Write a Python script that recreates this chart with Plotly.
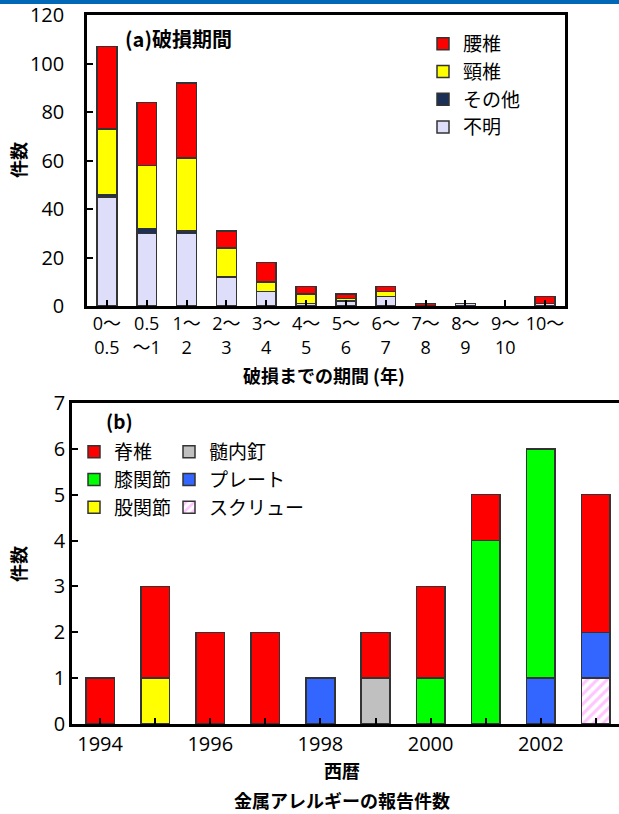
import plotly.graph_objects as go

# ---------- (a) data ----------
periods = ["0〜<br>0.5", "0.5<br>〜1", "1〜<br>2", "2〜<br>3", "3〜<br>4", "4〜<br>5",
           "5〜<br>6", "6〜<br>7", "7〜<br>8", "8〜<br>9", "9〜<br>10", "10〜"]
unknown = [45, 30, 30, 12, 6, 1, 2, 4, 0, 1, 0, 1]
other = [1, 2, 1, 0, 0, 0, 0, 0, 0, 0, 0, 0]
cervical = [27, 26, 30, 12, 4, 4, 1, 2, 0, 0, 0, 0]
lumbar = [34, 26, 31, 7, 8, 3, 2, 2, 1, 0, 0, 3]
yticks_a = [0, 20, 40, 60, 80, 100, 120]

# ---------- (b) data ----------
years = [1994, 1995, 1996, 1997, 1998, 1999, 2000, 2001, 2002, 2003]
year_labels = ["1994", "", "1996", "", "1998", "", "2000", "", "2002", ""]
screw = [0, 0, 0, 0, 0, 0, 0, 0, 0, 1]
plate = [0, 0, 0, 0, 1, 0, 0, 0, 1, 1]
nail = [0, 0, 0, 0, 0, 1, 0, 0, 0, 0]
hip = [0, 1, 0, 0, 0, 0, 0, 0, 0, 0]
knee = [0, 0, 0, 0, 0, 0, 1, 4, 5, 0]
spine = [1, 2, 2, 2, 0, 1, 2, 1, 0, 3]

W, H = 619, 814
FONT = "Noto Sans CJK JP"
NUMFONT = "Open Sans, Noto Sans CJK JP"
EDGE = dict(color="#333333", width=1.5)


def py(px):
    return 1 - px / H


def px_(x):
    return x / W


def nz(vals):
    # skip zero-height segments so no stray outlines are drawn
    return [v if v else None for v in vals]


fig = go.Figure()

xs = list(range(len(periods)))
top_series = [
    ("不明", unknown, "#dedefa", 4),
    ("その他", other, "#1b2f57", 3),
    ("頸椎", cervical, "#ffff00", 2),
    ("腰椎", lumbar, "#ff0000", 1),
]
for name, vals, col, rank in top_series:
    fig.add_trace(go.Bar(x=xs, y=nz(vals), name=name, width=0.5,
                         marker=dict(color=col, line=EDGE),
                         xaxis="x", yaxis="y", legend="legend", legendrank=rank))

bot_series = [
    ("スクリュー", screw, "white", "legend3", 3, True),
    ("プレート", plate, "#3366ff", "legend3", 2, False),
    ("髄内釘", nail, "#c0c0c0", "legend3", 1, False),
    ("股関節", hip, "#ffff00", "legend2", 3, False),
    ("膝関節", knee, "#00ff00", "legend2", 2, False),
    ("脊椎", spine, "#ff0000", "legend2", 1, False),
]
for name, vals, col, lg, rank, patt in bot_series:
    marker = dict(color=col, line=EDGE)
    if patt:
        marker["pattern"] = dict(shape="/", fgcolor="#ff8cff", bgcolor="white",
                                 size=7, solidity=0.45)
    fig.add_trace(go.Bar(x=years, y=nz(vals), name=name, width=0.52, marker=marker,
                         xaxis="x2", yaxis="y2", legend=lg, legendrank=rank))

axis_common = dict(showline=True, linecolor="black", linewidth=2.5, mirror=True,
                   ticks="inside", tickcolor="black", tickwidth=2, ticklen=6,
                   showgrid=False, zeroline=False, automargin=False,
                   ticklabeloverflow="allow")


def ann(text, x, y, size=18, xanchor="center", angle=0):
    return dict(text=text, x=px_(x), y=py(y), xref="paper", yref="paper",
                xanchor=xanchor, yanchor="middle", showarrow=False,
                textangle=angle, font=dict(size=size))


fig.update_layout(
    width=W, height=H, autosize=False,
    margin=dict(l=0, r=0, t=0, b=0, pad=0, autoexpand=False),
    paper_bgcolor="white", plot_bgcolor="white",
    barmode="stack",
    font=dict(family=FONT, color="black", size=18),
    xaxis=dict(domain=[px_(87), px_(565)], anchor="y", range=[-0.5, 11.5],
               tickvals=xs, ticktext=periods,
               tickfont=dict(size=18, family=NUMFONT), **axis_common),
    yaxis=dict(domain=[py(306), py(15)], anchor="x", range=[0, 120],
               tickvals=yticks_a, tickfont=dict(size=20, family=NUMFONT),
               ticklabelstandoff=16, **axis_common),
    xaxis2=dict(domain=[px_(72), 1.0], anchor="y2", range=[1993.49, 2003.42],
                tickvals=years, ticktext=year_labels,
                tickfont=dict(size=20, family=NUMFONT), **axis_common),
    yaxis2=dict(domain=[py(724), py(403)], anchor="x2", range=[0, 7], dtick=1,
                tickfont=dict(size=20, family=NUMFONT), **axis_common),
    legend=dict(x=px_(423), y=py(25), xanchor="left", yanchor="top",
                traceorder="normal", font=dict(size=19), bgcolor="rgba(0,0,0,0)",
                tracegroupgap=0),
    legend2=dict(x=px_(74), y=py(433), xanchor="left", yanchor="top",
                 traceorder="normal", font=dict(size=19), bgcolor="rgba(0,0,0,0)"),
    legend3=dict(x=px_(169), y=py(433), xanchor="left", yanchor="top",
                 traceorder="normal", font=dict(size=19), bgcolor="rgba(0,0,0,0)"),
    shapes=[dict(type="rect", xref="paper", yref="paper", x0=0, x1=1,
                 y0=py(4), y1=1, fillcolor="#0068b7", line=dict(width=0))],
    annotations=[
        ann("<b>(a)破損期間</b>", 123, 38, 20, xanchor="left"),
        ann("<b>件数</b>", 18, 160, angle=-90),
        ann("<b>破損までの期間 (年)</b>", 324, 375),
        ann("<b>(b)</b>", 104, 420, 19, xanchor="left"),
        ann("<b>件数</b>", 18, 564, angle=-90),
        ann("<b>西暦</b>", 342, 770),
        ann("<b>金属アレルギーの報告件数</b>", 342, 800),
    ],
)

fig.write_html("out.html", config={"displayModeBar": False},
               post_script="document.body.style.margin='0px';document.body.style.overflow='hidden';")
